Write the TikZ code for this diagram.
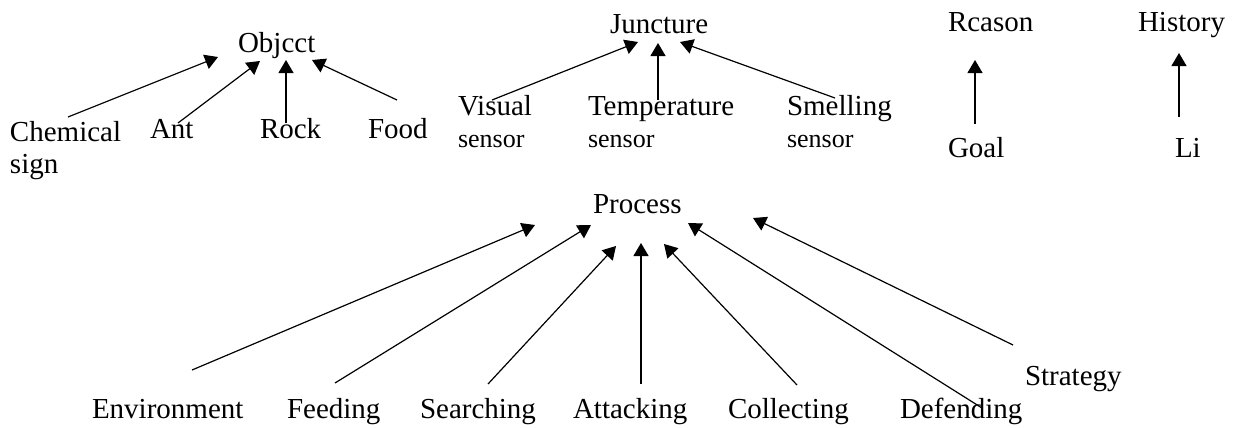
\documentclass[tikz,border=0pt]{standalone}
\usepackage{fontspec}
\setmainfont{Liberation Serif}
\usetikzlibrary{arrows.meta}
\tikzset{word/.style={inner sep=0pt, outer sep=0pt, anchor=base west, align=left,
    font=\fontsize{14.5}{16}\selectfont},
    link/.style={line width=0.6pt, -{Triangle[length=6.5pt,width=7.5pt]}},
}
% small second line of the sensor nodes
\newcommand{\sensorline}{{\fontsize{13}{16}\selectfont sensor}}

\begin{document}
\begin{tikzpicture}[x=0.5pt,y=-0.5pt]
\useasboundingbox (0,0) rectangle (1237,428);
% object group (two-line nodes sit on their last line)
\node[word] (obj) at (238,53) {Objcct};
\node[word] (chem) at (10,173) {Chemical\\sign};
\node[word] (ant) at (150,138) {Ant};
\node[word] (rock) at (260,138) {Rock};
\node[word] (food) at (368,138) {Food};
\draw[link] ([shift={(58,-56)}]chem.base west) -- ([shift={(-20,4)}]obj.base west);
\draw[link] ([shift={(28,-15)}]ant.base west) -- ([shift={(22,8)}]obj.base west);
\draw[link] ([shift={(26,-15)}]rock.base west) -- ([shift={(48,7)}]obj.base west);
\draw[link] ([shift={(29,-38)}]food.base west) -- ([shift={(74,7)}]obj.base west);
% juncture group
\node[word] (junc) at (610,33) {Juncture};
\node[word] (vis) at (458,147) {Visual\\\sensorline};
\node[word] (temp) at (588,147) {Temperature\\\sensorline};
\node[word] (smell) at (787,147) {Smelling\\\sensorline};
\draw[link] ([shift={(34,-47)}]vis.base west) -- ([shift={(28,9)}]junc.base west);
\draw[link] ([shift={(70,-47)}]temp.base west) -- ([shift={(48,10)}]junc.base west);
\draw[link] ([shift={(48,-49)}]smell.base west) -- ([shift={(70,9)}]junc.base west);
% reason and history
\node[word] (reason) at (948,32) {Rcason};
\node[word] (hist) at (1138,32) {History};
\node[word] (goal) at (948,157) {Goal};
\node[word] (li) at (1175,157) {Li};
\draw[link] ([shift={(27,-33)}]goal.base west) -- ([shift={(27,28)}]reason.base west);
\draw[link] ([shift={(4,-40)}]li.base west) -- ([shift={(41,21)}]hist.base west);
% process group
\node[word] (proc) at (593,213) {Process};
\node[word] (env) at (92,418) {Environment};
\node[word] (feed) at (287,418) {Feeding};
\node[word] (search) at (420,418) {Searching};
\node[word] (attack) at (573,418) {Attacking};
\node[word] (collect) at (728,418) {Collecting};
\node[word] (defend) at (900,418) {Defending};
\node[word] (strat) at (1025,385) {Strategy};
\draw[link] ([shift={(100,-48)}]env.base west) -- ([shift={(-58,12)}]proc.base west);
\draw[link] ([shift={(48,-35)}]feed.base west) -- ([shift={(-2,12)}]proc.base west);
\draw[link] ([shift={(68,-34)}]search.base west) -- ([shift={(23,33)}]proc.base west);
\draw[link] ([shift={(68,-34)}]attack.base west) -- ([shift={(48,30)}]proc.base west);
\draw[link] ([shift={(69,-33)}]collect.base west) -- ([shift={(71,31)}]proc.base west);
\draw[link] ([shift={(82,-10)}]defend.base west) -- ([shift={(95,10)}]proc.base west);
\draw[link] ([shift={(-12,-40)}]strat.base west) -- ([shift={(160,5)}]proc.base west);
\end{tikzpicture}
\end{document}
